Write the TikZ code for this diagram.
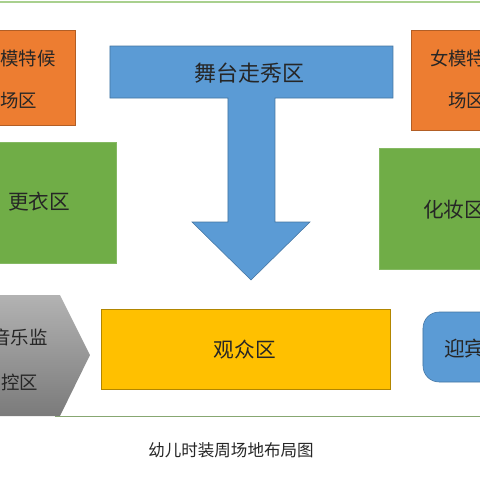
\documentclass[tikz,border=0pt]{standalone}
\usepackage{fontspec}
\setmainfont{Noto Sans CJK SC}
\definecolor{zoneOrange}{HTML}{ED7D31}
\definecolor{zoneBlue}{HTML}{5B9BD5}
\definecolor{zoneGreen}{HTML}{70AD47}
\definecolor{zoneGold}{HTML}{FFC000}
\definecolor{frameGreen}{HTML}{A9D08E}
\tikzset{
  zonetext/.style={inner sep=0.75pt, text=black!85, font=\fontsize{15.5}{20}\selectfont},
  smalltext/.style={inner sep=0.75pt, text=black!85, align=center, font=\fontsize{13.8}{31.5}\selectfont}
}

\begin{document}
\begin{tikzpicture}[x=0.75pt,y=0.75pt,yscale=-1,xscale=1]
\useasboundingbox (0,0) rectangle (480,480);
\clip (0,0) rectangle (480,480);
% frame lines
\draw[frameGreen, line width=1.5pt]  (0,1.5) -- (480,1.5) ;
\draw[frameGreen!80!black, line width=0.7pt]  (55,416) -- (480,416) ;
% waiting areas
\draw[fill=zoneOrange, draw=zoneOrange!75!black]  (-37,30) rectangle (75,125) ;
\draw[fill=zoneOrange, draw=zoneOrange!75!black]  (411,30) rectangle (523,130) ;
% runway arrow
\draw[fill=zoneBlue, draw=zoneBlue!75!black]  (110,46) -- (393,46) -- (393,98) -- (275,98) -- (275,222) -- (310,222) -- (251,280) -- (192,222) -- (228,222) -- (228,98) -- (110,98) -- cycle ;
% dressing and make-up
\draw[fill=zoneGreen, draw=zoneGreen!85!white]  (-36,142) rectangle (116,263) ;
\draw[fill=zoneGreen, draw=zoneGreen!85!white]  (379,148) rectangle (531,269) ;
% music control
\draw[top color=black!30, bottom color=black!52, draw=none]  (-40,295) -- (60,295) -- (90,355) -- (60,416) -- (-40,416) -- cycle ;
% audience and welcome
\draw[fill=zoneGold, draw=zoneGold!70!black]  (101,309) rectangle (390,389) ;
\draw[fill=zoneBlue, draw=zoneBlue!75!black, rounded corners=12]  (423,312) rectangle (540,382) ;
% Text Node
\draw (250,73) node [zonetext, font=\fontsize{16.5}{20}\selectfont] (runway)   {舞台走秀区};
% Text Node
\draw (19,79) node [smalltext] (maleWait)   {男模特候\\场区};
% Text Node
\draw (467,79) node [smalltext] (femaleWait)   {女模特候\\场区};
% Text Node
\draw (7,202) node [zonetext, anchor=west] (dressing)   {更衣区};
% Text Node
\draw (422,210) node [zonetext, anchor=west] (makeup)   {化妆区};
% Text Node
\draw (20,360) node [smalltext, font=\fontsize{13.8}{33.5}\selectfont] (music)   {音乐监\\控区};
% Text Node
\draw (245,350) node [zonetext] (audience)   {观众区};
% Text Node
\draw (443,349) node [zonetext, anchor=west] (welcome)   {迎宾区};
% Text Node
\draw (231,450) node [inner sep=0.75pt, text=black!85, font=\fontsize{12.4}{15}\selectfont] (title)   {幼儿时装周场地布局图};
\end{tikzpicture}
\end{document}
